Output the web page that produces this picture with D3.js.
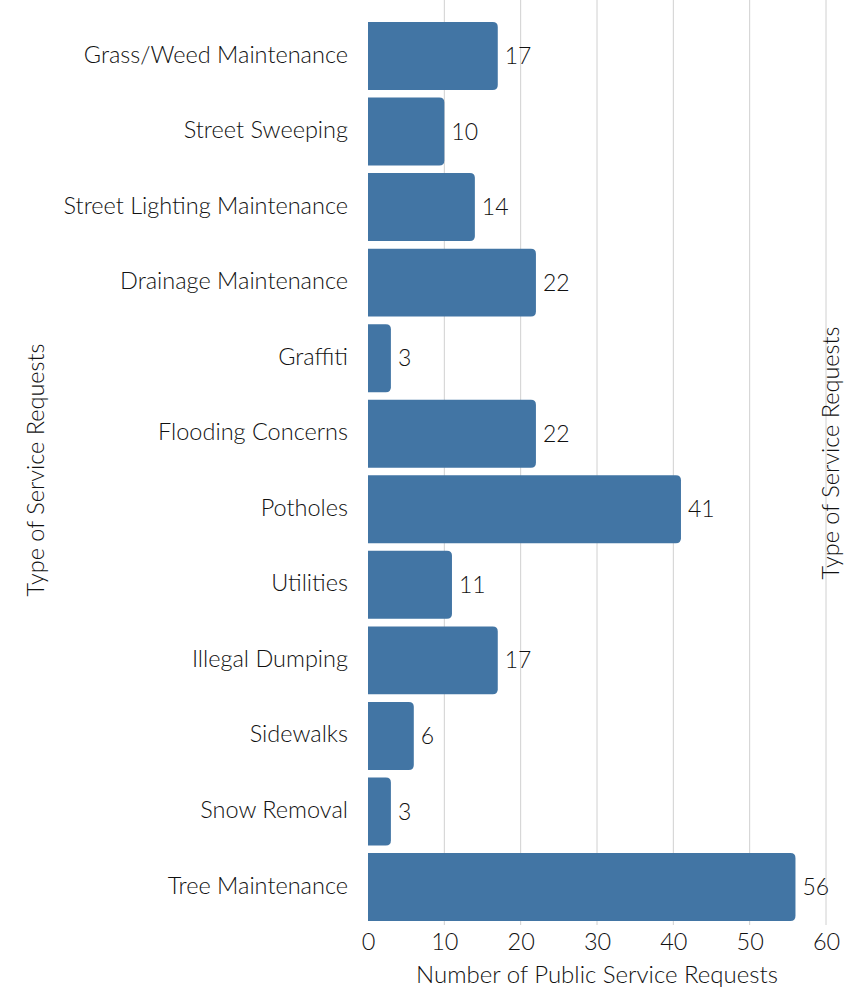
<!DOCTYPE html>
<html><head><meta charset="utf-8">
<script src="https://cdn.jsdelivr.net/npm/d3@7"></script>
<style>body{margin:0;background:#fff;} text{font-family:Lato,"Open Sans",sans-serif;font-weight:300;fill:#111;}</style>
</head><body>
<svg id="c" width="844" height="988"></svg>
<script>
const categories = ["Grass/Weed Maintenance","Street Sweeping","Street Lighting Maintenance","Drainage Maintenance","Graffiti","Flooding Concerns","Potholes","Utilities","Illegal Dumping","Sidewalks","Snow Removal","Tree Maintenance"];
const values = [17,10,14,22,3,22,41,11,17,6,3,56];
const xTicks = [0,10,20,30,40,50,60];
const xTitle = "Number of Public Service Requests";
const yTitle = "Type of Service Requests";

const svg = d3.select("#c");
const x = d3.scaleLinear().domain([0,60]).range([368,826]);
const y = d3.scaleBand().domain(categories).range([18.2,924.8]).paddingInner(0.1).paddingOuter(0.05);

// gridlines
svg.append("g").selectAll("line").data(xTicks.filter(d=>d>0)).join("line")
  .attr("x1",d=>x(d)).attr("x2",d=>x(d)).attr("y1",0).attr("y2",925)
  .attr("stroke","#d0d0d0").attr("stroke-width",1);

// bars with rounded right end
const r = 5;
svg.append("g").selectAll("path").data(categories).join("path")
  .attr("fill","#4275a4")
  .attr("d",(c,i)=>{
    const x0 = x(0), x1 = x(values[i]), y0 = y(c), h = y.bandwidth();
    const rr = Math.min(r,(x1-x0)/2);
    return `M${x0},${y0}H${x1-rr}Q${x1},${y0} ${x1},${y0+rr}V${y0+h-rr}Q${x1},${y0+h} ${x1-rr},${y0+h}H${x0}Z`;
  });

// value labels
svg.append("g").selectAll("text").data(categories).join("text")
  .attr("x",(c,i)=>x(values[i])+7).attr("y",c=>y(c)+y.bandwidth()/2)
  .attr("dy","0.35em").attr("font-size",23).text((c,i)=>values[i]);

// y axis labels
const ya = svg.append("g").attr("transform","translate(348,-1)").call(d3.axisLeft(y).tickSize(0).tickPadding(0));
ya.select(".domain").remove();
ya.selectAll("text").attr("font-size",23.5).style("font-family","Lato,sans-serif").style("font-weight",300).attr("fill","#111");

// x axis
const xa = svg.append("g").attr("transform","translate(0,933)").call(d3.axisBottom(x).tickValues(xTicks).tickSize(0).tickPadding(0).tickFormat(d3.format("d")));
xa.select(".domain").remove();
xa.selectAll("text").attr("font-size",23.5).attr("dy","0.71em").style("font-family","Lato,sans-serif").style("font-weight",300).attr("fill","#111");

svg.append("text").attr("x",597).attr("y",983).attr("text-anchor","middle").attr("font-size",24).text(xTitle);
svg.append("text").attr("transform","translate(44,470) rotate(-90)").attr("text-anchor","middle").attr("font-size",23.5).text(yTitle);
svg.append("text").attr("transform","translate(839,453) rotate(-90)").attr("text-anchor","middle").attr("font-size",23.5).text(yTitle);
</script>
</body></html>
